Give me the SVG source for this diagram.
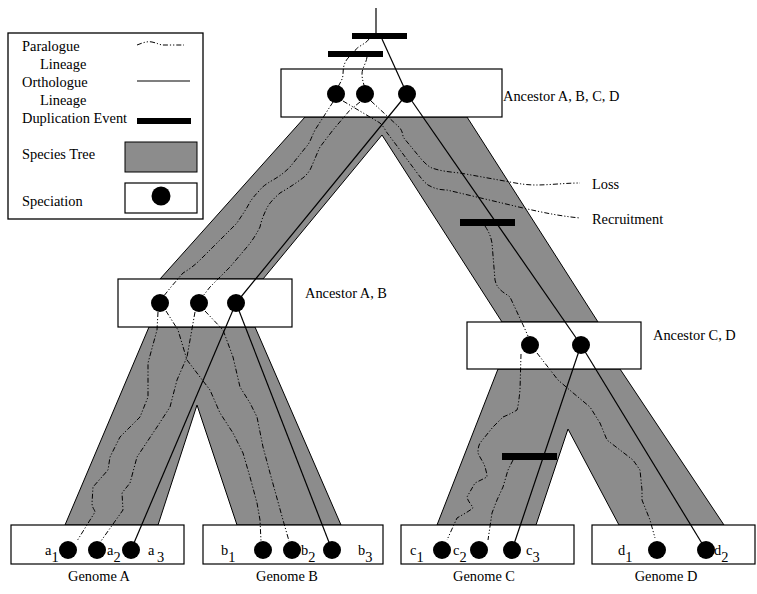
<svg xmlns="http://www.w3.org/2000/svg" width="757" height="594" viewBox="0 0 757 594" font-family="'Liberation Serif', 'Times New Roman', 'DejaVu Serif', serif">
<defs>
<style>
text{font-family:'Liberation Serif','Times New Roman','DejaVu Serif',serif;font-size:14.4px;fill:#000}
.tree{fill:#8c8c8c;stroke:#000;stroke-width:1}
.box{fill:#fff;stroke:#000;stroke-width:1.2}
.orth{fill:none;stroke:#000;stroke-width:1.2}
.para{fill:none;stroke:#000;stroke-width:1;stroke-dasharray:5 2 1.2 2 1.2 2}
.dup{fill:#000}
.sp{fill:#000}
.mid{text-anchor:middle}
</style>
</defs>
<rect width="757" height="594" fill="#fff"/>

<g id="legend">
<rect x="8" y="33" width="195" height="186" fill="#fff" stroke="#000" stroke-width="1.3"/>
<text x="22" y="51">Paralogue</text>
<text x="40" y="69">Lineage</text>
<text x="22" y="87">Orthologue</text>
<text x="40" y="105">Lineage</text>
<text x="22" y="123">Duplication Event</text>
<text x="22" y="159">Species Tree</text>
<text x="22" y="206">Speciation</text>
<path class="para" d="M137,45 C142,43 147,41 152,42 C157,43 160,45 163,45 L184,45"/>
<line class="orth" x1="137" y1="81" x2="190" y2="81"/>
<rect class="dup" x="137" y="118" width="54" height="6"/>
<rect class="tree" x="125" y="142" width="72" height="30"/>
<rect class="box" x="125" y="183" width="72" height="30"/>
<circle class="sp" cx="161" cy="196" r="9.5"/>
</g>

<g id="species-tree">
<polygon class="tree" points="305,117 467,117 598,322 502,322 382,135 263,279 160,279"/>
<polygon class="tree" points="149,327 255,327 341,525 237,525 197,405 158,525 65,525"/>
<polygon class="tree" points="498,369 620,369 724,525 619,525 568,429 536,525 437,525"/>
</g>

<g id="ancestor-abcd">
<rect class="box" x="281" y="69" width="221" height="48"/>
<text x="503" y="101">Ancestor A, B, C, D</text>
</g>
<g id="ancestor-ab">
<rect class="box" x="118" y="279" width="174" height="48"/>
<text x="305" y="298">Ancestor A, B</text>
</g>
<g id="ancestor-cd">
<rect class="box" x="467" y="322" width="174" height="47"/>
<text x="653" y="340">Ancestor C, D</text>
</g>
<g id="genome-a">
<rect class="box" x="11" y="525" width="173" height="39"/>
<text class="mid" x="99" y="581">Genome A</text>
</g>
<g id="genome-b">
<rect class="box" x="203" y="525" width="180" height="39"/>
<text class="mid" x="287" y="581">Genome B</text>
</g>
<g id="genome-c">
<rect class="box" x="401" y="525" width="173" height="39"/>
<text class="mid" x="484" y="581">Genome C</text>
</g>
<g id="genome-d">
<rect class="box" x="592" y="525" width="163" height="39"/>
<text class="mid" x="666" y="581">Genome D</text>
</g>

<g id="connectors">
<line class="orth" x1="376" y1="8" x2="376" y2="33"/>
<line class="orth" x1="382" y1="39" x2="407" y2="94"/>
<line class="orth" x1="407" y1="94" x2="581" y2="345"/>
<line class="orth" x1="407" y1="94" x2="236" y2="303"/>
<line class="orth" x1="236" y1="303" x2="131" y2="550"/>
<line class="orth" x1="236" y1="303" x2="332" y2="550"/>
<line class="orth" x1="581" y1="345" x2="512" y2="550"/>
<line class="orth" x1="581" y1="345" x2="706" y2="550"/>
<path class="para" d="M369,39 C366,44 356,47 355,51"/>
<path class="para" d="M349,57 C344,62 343,68 343,74 C343,80 339,84 337,89"/>
<path class="para" d="M367,57 C366,64 362,68 362,74 C362,80 364,84 365,89"/>
<path class="para" d="M333,102 L315,130 C311,138 310,143 306,147 L290,167 C283,174 278,177 273,180 C266,184 262,187 260,190 C255,195 252,199 250,202 C246,210 240,218 237,223 L217,243 C210,250 205,255 200,260 C194,266 188,270 183,273 L171,287 L163,297"/>
<path class="para" d="M360,102 L350,110 L333,130 L320,147 C315,158 312,166 310,170 C306,176 303,178 300,180 C292,186 285,190 280,193 C272,200 268,205 266,210 C263,216 261,222 260,227 C256,235 252,241 247,247 L230,267 L210,287 L203,296"/>
<path class="para" d="M343,101 L380,123 C385,128 386,132 388,134 L400,150 L415,170 C420,177 424,182 428,185 C435,189 441,190 447,190 L523,208 C545,213 560,216 580,218"/>
<path class="para" d="M371,101 L400,128 C402,131 403,134 403,137 L422,160 C426,164 429,167 432,168 C440,171 450,172 460,173 L510,182 C520,184 528,185 536,185 C550,185 565,183 580,183"/>
<path class="para" d="M485,226 C489,232 491,237 492,243 L495,280 C497,290 505,293 510,297 L524,327 L528,336"/>
<path class="para" d="M158,312 L157,330 L148,363 L148,397 L140,417 L120,437 L110,457 L108,470 L93,487 L92,503 C92,508 95,510 95,512 L77,541"/>
<path class="para" d="M195,312 L187,357 L177,380 L170,407 L157,427 L137,457 L130,483 L122,493 L123,510 L101,541"/>
<path class="para" d="M166,311 L178,330 L187,360 L210,390 L220,413 L233,433 L243,453 L250,477 L257,503 L260,520 L261,541"/>
<path class="para" d="M205,311 L223,330 L233,357 L240,387 L250,403 L257,417 L263,447 L270,473 L283,520 L289,541"/>
<path class="para" d="M521,354 L520,390 C519,400 518,407 517,410 C512,413 508,415 503,417 C500,420 496,424 493,427 L480,443 C478,447 478,450 478,453 C480,458 484,463 485,467 C486,470 487,474 487,477 C483,479 479,481 475,483 L467,497 C468,502 472,505 473,508 C468,512 462,515 457,518 L447,540"/>
<path class="para" d="M537,353 L558,380 L572,392 L590,407 L600,423 L607,440 L620,450 L633,460 L640,470 L642,490 L642,500 L650,520 L655,538"/>
<path class="para" d="M513,460 L508,470 L503,487 L497,500 L492,513 L488,540"/>
</g>

<g id="duplication-events">
<rect class="dup" x="352" y="33" width="55" height="6"/>
<rect class="dup" x="328" y="51" width="55" height="6"/>
<rect class="dup" x="460" y="219" width="55" height="7"/>
<rect class="dup" x="502" y="453" width="55" height="7"/>
</g>

<g id="speciation-nodes">
<circle class="sp" cx="336" cy="94" r="9"/>
<circle class="sp" cx="365" cy="94" r="9"/>
<circle class="sp" cx="407" cy="94" r="9"/>
<circle class="sp" cx="160" cy="303" r="9"/>
<circle class="sp" cx="199" cy="303" r="9"/>
<circle class="sp" cx="236" cy="303" r="9"/>
<circle class="sp" cx="530" cy="345" r="9"/>
<circle class="sp" cx="581" cy="345" r="9"/>
<circle class="sp" cx="68" cy="550" r="9"/>
<circle class="sp" cx="97" cy="550" r="9"/>
<circle class="sp" cx="131" cy="550" r="9"/>
<circle class="sp" cx="263" cy="550" r="9"/>
<circle class="sp" cx="292" cy="550" r="9"/>
<circle class="sp" cx="332" cy="550" r="9"/>
<circle class="sp" cx="442" cy="550" r="9"/>
<circle class="sp" cx="479" cy="550" r="9"/>
<circle class="sp" cx="512" cy="550" r="9"/>
<circle class="sp" cx="657" cy="550" r="9"/>
<circle class="sp" cx="706" cy="550" r="9"/>
</g>

<g id="gene-labels">
<text x="45" y="555">a<tspan dy="7">1</tspan></text>
<text x="107" y="555">a<tspan dy="7">2</tspan></text>
<text x="148" y="555">a<tspan x="157" dy="7">3</tspan></text>
<text x="221" y="555">b<tspan dy="7">1</tspan></text>
<text x="301" y="555">b<tspan dy="7">2</tspan></text>
<text x="358" y="555">b<tspan dy="7">3</tspan></text>
<text x="410" y="555">c<tspan dy="7">1</tspan></text>
<text x="453" y="555">c<tspan dy="7">2</tspan></text>
<text x="526" y="555">c<tspan dy="7">3</tspan></text>
<text x="618" y="555">d<tspan dy="7">1</tspan></text>
<text x="714" y="555">d<tspan dy="7">2</tspan></text>
</g>

<g id="event-labels">
<text x="592" y="189">Loss</text>
<text x="592" y="224">Recruitment</text>
</g>
</svg>
